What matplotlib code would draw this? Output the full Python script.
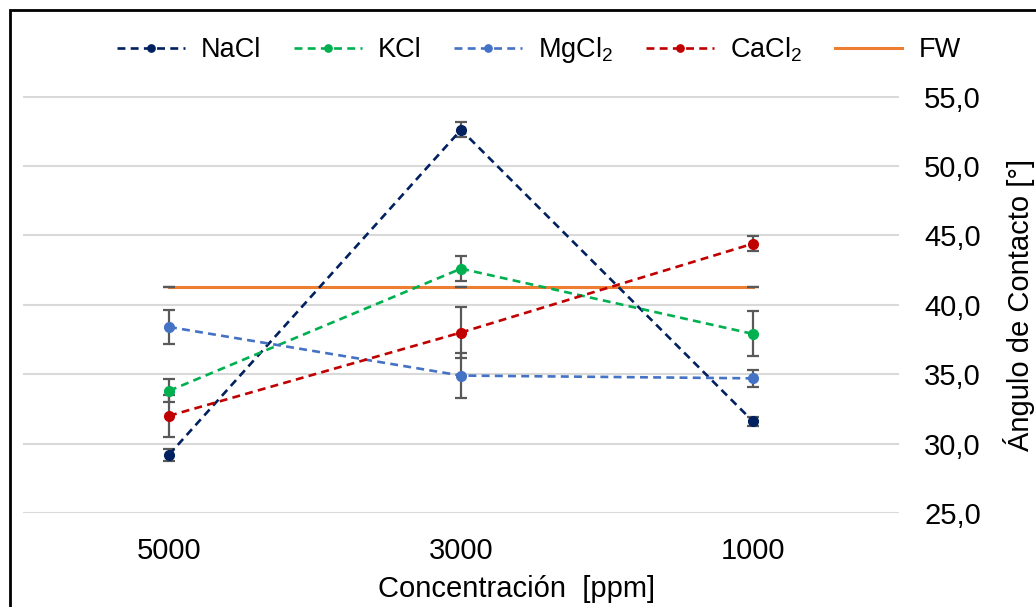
import matplotlib
matplotlib.use("Agg")
import matplotlib.pyplot as plt
from matplotlib.patches import Rectangle
from matplotlib.ticker import FuncFormatter

plt.rcParams['font.family'] = ['Liberation Sans', 'DejaVu Sans']
plt.rcParams['mathtext.fontset'] = 'custom'
plt.rcParams['mathtext.rm'] = 'Liberation Sans'
plt.rcParams['mathtext.it'] = 'Liberation Sans:italic'

# datos
concentraciones = ['5000', '3000', '1000']
nacl = [29.2, 52.6, 31.6]
nacl_err = [0.42, 0.55, 0.35]
kcl = [33.8, 42.6, 37.9]
kcl_err = [0.84, 0.92, 1.62]
mgcl2 = [38.4, 34.9, 34.7]
mgcl2_err = [1.2, 1.64, 0.63]
cacl2 = [32.0, 38.0, 44.4]
cacl2_err = [1.49, 1.87, 0.52]
fw = [41.3, 41.3, 41.3]
fw_err = [0, 0, 0]

series = [
    ('NaCl', nacl, nacl_err, '#002060', '--'),
    ('KCl', kcl, kcl_err, '#00B050', '--'),
    ('MgCl$_2$', mgcl2, mgcl2_err, '#4472C4', '--'),
    ('CaCl$_2$', cacl2, cacl2_err, '#C00000', '--'),
    ('FW', fw, fw_err, '#ED7D31', '-'),
]

fs_leg = 19.5
fs_ax = 21
fig = plt.figure(figsize=(10.36, 6.07), dpi=100)
ax = fig.add_axes([23/1036, 1-513/607, 876/1036, 416.5/607])

x = list(range(len(concentraciones)))
handles = []
for nombre, y, err, color, ls in series:
    ax.errorbar(x, y, yerr=err, fmt='none', ecolor='#595959',
                elinewidth=1.6, capsize=4.5, capthick=1.6, zorder=3)
    if ls == '--':
        ln, = ax.plot(x, y, ls, color=color, lw=1.9, dashes=(3, 2),
                      marker='o', ms=7, label=nombre, zorder=4)
    else:
        ln, = ax.plot(x, y, ls, color=color, lw=2.2, label=nombre, zorder=2)
    handles.append(ln)

ax.set_xlim(-0.5, 2.5)
ax.set_ylim(25, 55)
ax.set_yticks([25, 30, 35, 40, 45, 50, 55])
ax.yaxis.set_major_formatter(FuncFormatter(lambda v, p: f'{v:.1f}'.replace('.', ',')))
ax.set_xticks(x)
ax.set_xticklabels(concentraciones)
ax.yaxis.tick_right()
ax.yaxis.set_label_position('right')
ax.tick_params(axis='both', length=0, labelsize=fs_ax)
ax.tick_params(axis='y', pad=18)
ax.tick_params(axis='x', pad=17)
ax.grid(axis='y', color='#D9D9D9', lw=1.5, zorder=0)
for s in ax.spines.values():
    s.set_visible(False)

ax.set_ylabel('Ángulo de Contacto [°]', fontsize=fs_ax, labelpad=16)
ax.set_xlabel('Concentración  [ppm]', fontsize=fs_ax)
ax.xaxis.set_label_coords(0.563, -0.148)

fig.legend(handles=handles, loc='center', bbox_to_anchor=(539/1036, 1-50/607),
           ncol=5, frameon=False, fontsize=fs_leg, handlelength=2.5,
           handletextpad=0.6, columnspacing=1.2, markerscale=0.75)

fig.patches.append(Rectangle((10/1036, -0.1), 1.2, 1.1 - 10/607,
                             transform=fig.transFigure, fill=False,
                             ec='black', lw=2))

fig.savefig('out.png', dpi=100)
